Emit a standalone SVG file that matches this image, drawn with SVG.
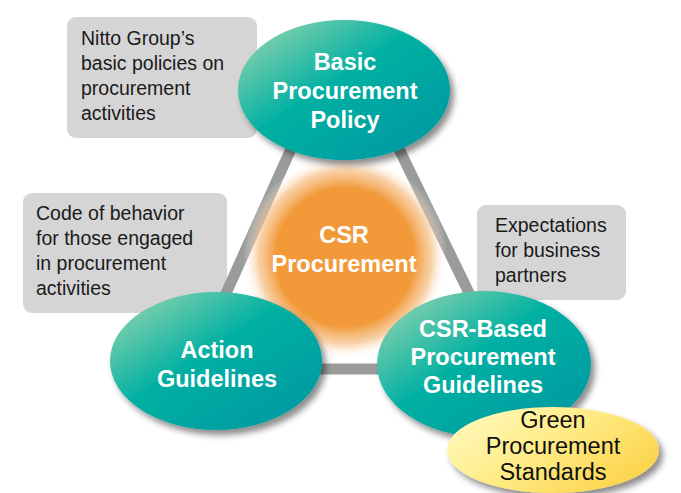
<svg xmlns="http://www.w3.org/2000/svg" width="681" height="493" viewBox="0 0 681 493">
<defs>
<linearGradient id="teal" x1="0" y1="0" x2="1" y2="1">
<stop offset="0" stop-color="#a6d9b0"/>
<stop offset="0.45" stop-color="#00b0a2"/>
<stop offset="1" stop-color="#0095a2"/>
</linearGradient>
<linearGradient id="yellow" x1="0" y1="0" x2="1" y2="0.6">
<stop offset="0" stop-color="#fffbc8"/>
<stop offset="0.5" stop-color="#ffed8a"/>
<stop offset="1" stop-color="#fcd54f"/>
</linearGradient>
<radialGradient id="orange" cx="0.5" cy="0.5" r="0.5">
<stop offset="0" stop-color="#f29a3a"/>
<stop offset="0.68" stop-color="#f29a3a"/>
<stop offset="0.85" stop-color="#f6bd82" stop-opacity="0.7"/>
<stop offset="1" stop-color="#ffffff" stop-opacity="0"/>
</radialGradient>
<filter id="shadow" x="-20%" y="-20%" width="150%" height="150%">
<feDropShadow dx="4" dy="5" stdDeviation="3" flood-color="#000" flood-opacity="0.45"/>
</filter>
</defs>
<style>
.box{fill:#d5d5d5}
.note{font-family:"Liberation Sans",Arial,sans-serif;font-size:19.5px;fill:#1a1a1a}
.title{font-family:"Liberation Sans",Arial,sans-serif;font-size:23.5px;font-weight:bold;fill:#ffffff;text-anchor:middle}
.green{font-family:"Liberation Sans",Arial,sans-serif;font-size:23.5px;fill:#111111;text-anchor:middle}
.node{fill:url(#teal);filter:url(#shadow)}
.link{stroke:#9a9c9b;stroke-width:11;fill:none}
</style>
<rect width="681" height="493" fill="#ffffff"/>
<g id="note-basic">
<rect class="box" x="67" y="17" width="190" height="121" rx="9"/>
<text class="note" x="81" y="45">Nitto Group’s</text>
<text class="note" x="81" y="70">basic policies on</text>
<text class="note" x="81" y="95">procurement</text>
<text class="note" x="81" y="120">activities</text>
</g>
<g id="note-action">
<rect class="box" x="23" y="193" width="204" height="120" rx="9"/>
<text class="note" x="36" y="220">Code of behavior</text>
<text class="note" x="36" y="245">for those engaged</text>
<text class="note" x="36" y="270">in procurement</text>
<text class="note" x="36" y="295">activities</text>
</g>
<g id="note-csr">
<rect class="box" x="477" y="205" width="149" height="95" rx="9"/>
<text class="note" x="495" y="232">Expectations</text>
<text class="note" x="495" y="257">for business</text>
<text class="note" x="495" y="282">partners</text>
</g>
<g id="connectors">
<line class="link" x1="340" y1="40" x2="192" y2="369"/>
<line class="link" x1="346" y1="40" x2="506" y2="369"/>
<line class="link" x1="200" y1="369" x2="500" y2="369"/>
</g>
<g id="csr-procurement">
<circle cx="345" cy="257" r="102" fill="url(#orange)"/>
<text class="title" x="344" y="243">CSR</text>
<text class="title" x="344" y="272">Procurement</text>
</g>
<g id="basic-policy">
<ellipse class="node" cx="344" cy="90" rx="106" ry="70"/>
<text class="title" x="345" y="70">Basic</text>
<text class="title" x="345" y="99">Procurement</text>
<text class="title" x="345" y="128">Policy</text>
</g>
<g id="action-guidelines">
<ellipse class="node" cx="216" cy="361" rx="106" ry="69"/>
<text class="title" x="217" y="358">Action</text>
<text class="title" x="217" y="387">Guidelines</text>
</g>
<g id="csr-guidelines">
<ellipse class="node" cx="484" cy="364" rx="107" ry="73"/>
<text class="title" x="483" y="337">CSR-Based</text>
<text class="title" x="483" y="365">Procurement</text>
<text class="title" x="483" y="393">Guidelines</text>
</g>
<g id="green-standards">
<ellipse cx="553" cy="450" rx="106" ry="43" fill="url(#yellow)" filter="url(#shadow)"/>
<text class="green" x="553" y="428">Green</text>
<text class="green" x="553" y="454">Procurement</text>
<text class="green" x="553" y="480">Standards</text>
</g>
</svg>
